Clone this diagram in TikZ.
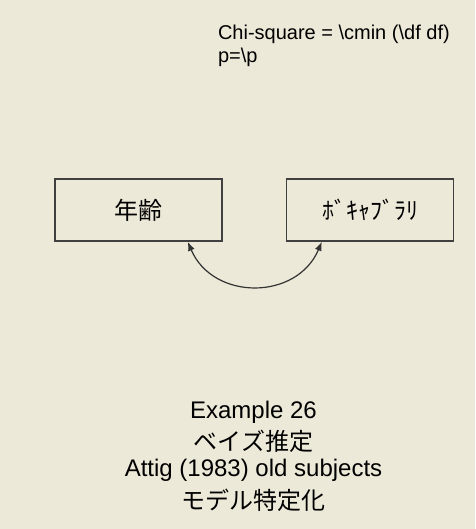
\documentclass[tikz,border=0pt]{standalone}
\usepackage{fontspec}
\setmainfont{Liberation Sans}
\newfontfamily\jpfont{Noto Sans CJK JP}
\usetikzlibrary{positioning,arrows.meta}
\definecolor{amosbg}{HTML}{ECE9D8}

\begin{document}
\begin{tikzpicture}[x=1pt,y=-1pt,
    varbox/.style={draw=black!75,line width=1.6pt,minimum width=167pt,minimum height=62pt,
        inner sep=0pt,font=\jpfont\fontsize{24}{28}\selectfont},
    covar/.style={{Latex[length=9pt,width=7pt]}-{Latex[length=9pt,width=7pt]},line width=1.2pt,draw=black!80},
    lbl/.style={inner sep=0,outer sep=0,anchor=base},
    latin/.style={font=\fontsize{20}{24}\selectfont},
    title/.style={font=\fontsize{24}{28}\selectfont},
    jptitle/.style={font=\jpfont\fontsize{24}{28}\selectfont}]%

\fill[amosbg] (0,0) rectangle (475,529);
\useasboundingbox (0,0) rectangle (475,529);

        \node[lbl,latin,anchor=base west] (chisq) at (218,40) {Chi-square = \textbackslash cmin (\textbackslash df df)};
        \node[lbl,latin,anchor=base west] (pval) at (218,63) {p=\textbackslash p};

\node[varbox] (age) at (138.5,210) {年齢};
\node[varbox,right=63pt of age] (vocab) {ﾎﾞｷｬﾌﾞﾗﾘ};

\coordinate (ageport) at ([xshift=-35pt]age.south east);
\coordinate (vocabport) at ([xshift=36pt]vocab.south west);
\draw[covar] (ageport) .. controls +(25,59) and +(-25,59) .. (vocabport);

 \node[lbl,title] (exname) at (253.5,418) {Example 26};
 \node[lbl,jptitle] (method) at (253.5,450.5) {ベイズ推定};
 \node[lbl,title] (study) at (253.5,476.7) {Attig (1983) old subjects};
 \node[lbl,jptitle] (model) at (253.5,509.5) {モデル特定化};

\end{tikzpicture}
\end{document}
